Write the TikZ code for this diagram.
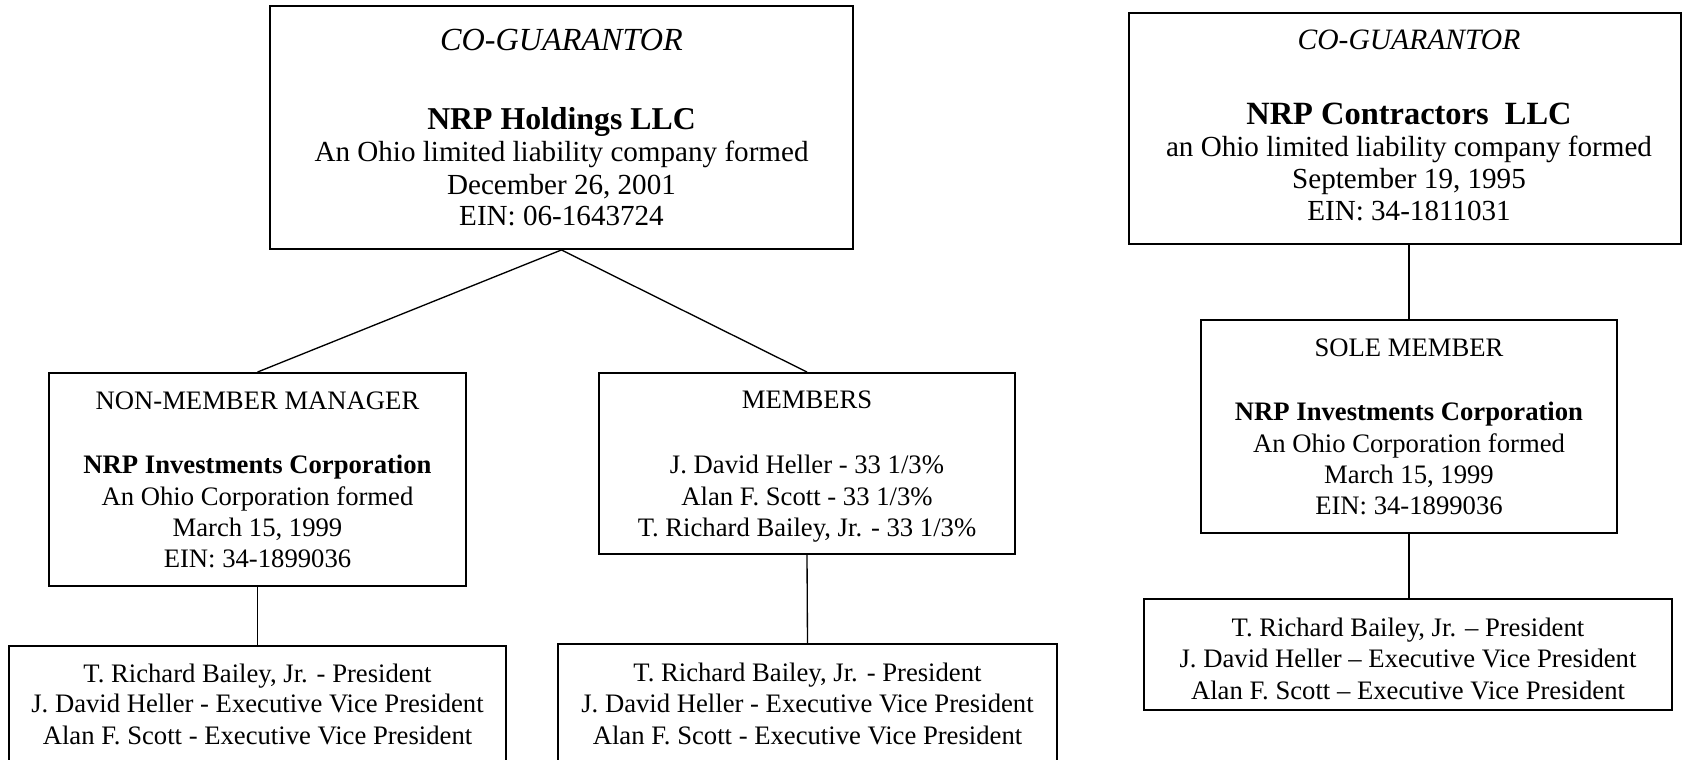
\documentclass[tikz,border=0pt]{standalone}
\usepackage{fontspec}
\setmainfont{Liberation Serif}
\begin{document}
\begin{tikzpicture}[x=0.45pt,y=-0.45pt]
\tikzset{
 box/.style={draw, line width=0.85pt, inner sep=0pt},
 ln/.style={anchor=base, inner sep=0pt, font=\fontsize{12}{14}\selectfont},
 lnt/.style={anchor=base, inner sep=0pt, font=\fontsize{13.1}{15}\selectfont},
 big/.style={anchor=base, inner sep=0pt, font=\fontsize{14.3}{16}\selectfont\bfseries},
 link/.style={line width=0.6pt},
}
\useasboundingbox (0,0) rectangle (1683,760);
% boxes
\node[box, minimum width=262.35pt, minimum height=109.35pt] (b1) at (561.5,127.5) {};
\node[box, minimum width=187.65pt, minimum height=95.85pt] (b2) at (257.5,479.5) {};
\node[box, minimum width=187.2pt, minimum height=81.45pt] (b3) at (807,463.5) {};
\node[box, minimum width=223.65pt, minimum height=53.55pt] (b4) at (257.5,705.5) {};
\node[box, minimum width=224.55pt, minimum height=54.45pt] (b5) at (807.5,704.5) {};
\node[box, minimum width=248.4pt, minimum height=103.95pt] (b6) at (1405,128.5) {};
\node[box, minimum width=187.2pt, minimum height=95.85pt] (b7) at (1409,426.5) {};
\node[box, minimum width=237.6pt, minimum height=49.95pt] (b8) at (1408,654.5) {};
% connectors
\draw[link] (b1.south) -- (b2.north);
\draw[link] (b1.south) -- (b3.north);
\draw[link] (b2.south) -- (b4.north);
\draw[link] (b3.south) -- (b5.north);
\draw[link] (b7.north |- b6.south) -- (b7.north);
\draw[link] (b7.south) -- (b7.south |- b8.north);
% box 1 text
\node[lnt, font=\fontsize{14.5}{16}\selectfont\itshape] (t1a) at (561.5,50) {CO-GUARANTOR};
\node[big] (t1b) at (561.5,129.5) {NRP Holdings LLC};
\node[lnt] (t1c) at (561.5,161.5) {An Ohio limited liability company formed};
\node[lnt] (t1d) at (561.5,194.5) {December 26, 2001};
\node[lnt] (t1e) at (561.5,225.5) {EIN: 06-1643724};
% box 2 text
\node[ln] (t2a) at (257.5,409) {NON-MEMBER MANAGER};
\node[ln] (t2b) at (257.5,473) {\bfseries NRP Investments Corporation};
\node[ln] (t2c) at (257.5,505) {An Ohio Corporation formed};
\node[ln] (t2d) at (257.5,536) {March 15, 1999};
\node[ln] (t2e) at (257.5,567) {EIN: 34-1899036};
% box 3 text
\node[ln] (t3a) at (807,408) {MEMBERS};
\node[ln] (t3b) at (807,473) {J. David Heller - 33 1/3\%};
\node[ln] (t3c) at (807,505) {Alan F. Scott - 33 1/3\%};
\node[ln] (t3d) at (807,536) {T. Richard Bailey, Jr. - 33 1/3\%};
% box 4 text
\node[ln] (t4a) at (257.5,682) {T. Richard Bailey, Jr. - President};
\node[ln] (t4b) at (257.5,712) {J. David Heller - Executive Vice President};
\node[ln] (t4c) at (257.5,744) {Alan F. Scott - Executive Vice President};
% box 5 text
\node[ln] (t5a) at (807.5,681) {T. Richard Bailey, Jr. - President};
\node[ln] (t5b) at (807.5,712) {J. David Heller - Executive Vice President};
\node[ln] (t5c) at (807.5,744) {Alan F. Scott - Executive Vice President};
% box 6 text
\node[lnt, font=\fontsize{13.3}{15}\selectfont\itshape] (t6a) at (1409,49.5) {CO-GUARANTOR};
\node[big, font=\fontsize{14.6}{16}\selectfont\bfseries] (t6b) at (1409,124) {NRP Contractors\ \ LLC};
\node[lnt] (t6c) at (1409,156.5) {an Ohio limited liability company formed};
\node[lnt] (t6d) at (1409,188.5) {September 19, 1995};
\node[lnt] (t6e) at (1409,220.5) {EIN: 34-1811031};
% box 7 text
\node[ln] (t7a) at (1409,356) {SOLE MEMBER};
\node[ln] (t7b) at (1409,420) {\bfseries NRP Investments Corporation};
\node[ln] (t7c) at (1409,452) {An Ohio Corporation formed};
\node[ln] (t7d) at (1409,483) {March 15, 1999};
\node[ln] (t7e) at (1409,514) {EIN: 34-1899036};
% box 8 text
\node[ln] (t8a) at (1408,636) {T. Richard Bailey, Jr. – President};
\node[ln] (t8b) at (1408,667) {J. David Heller – Executive Vice President};
\node[ln] (t8c) at (1408,699) {Alan F. Scott – Executive Vice President};
\end{tikzpicture}
\end{document}
